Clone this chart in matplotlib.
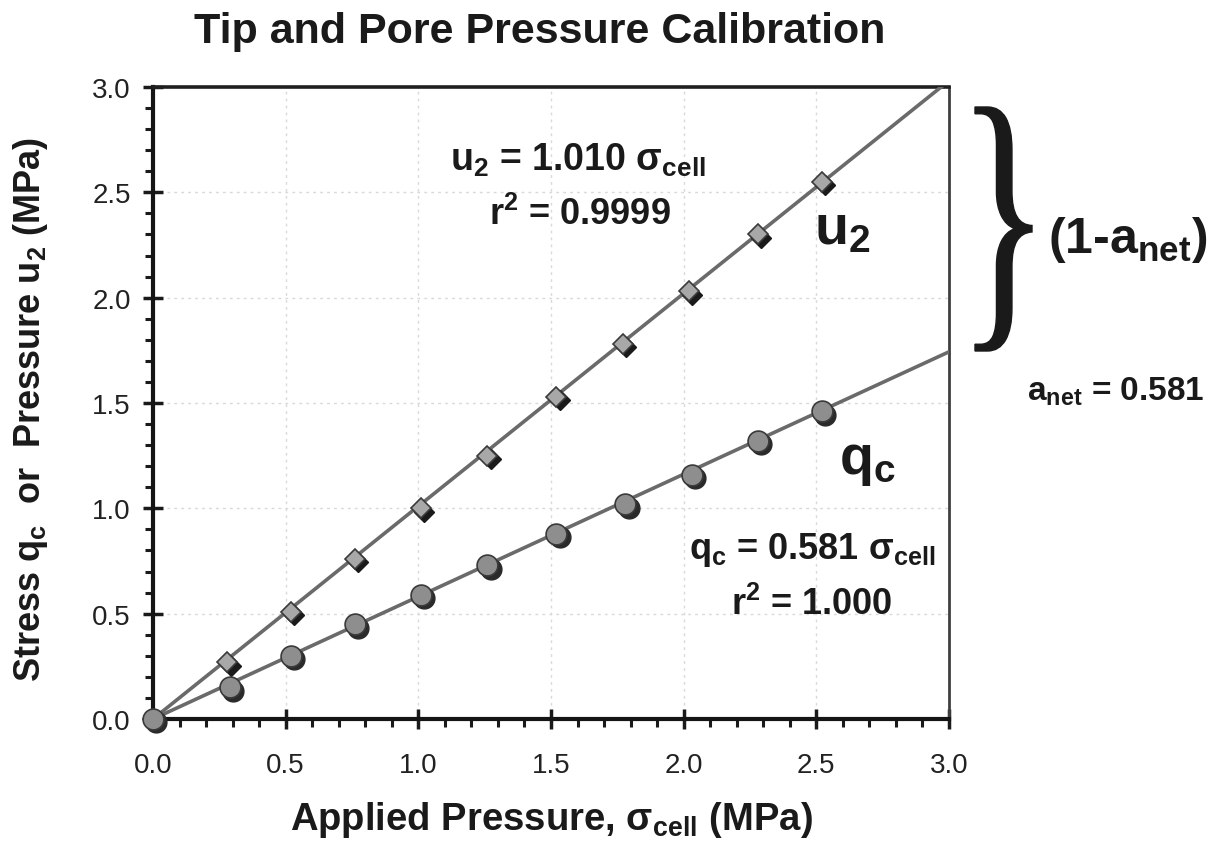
import numpy as np
import matplotlib
matplotlib.use("Agg")
import matplotlib.pyplot as plt
from matplotlib.ticker import MultipleLocator
from matplotlib.transforms import ScaledTranslation, Affine2D
from matplotlib.textpath import TextPath
from matplotlib.font_manager import FontProperties
from matplotlib.patches import PathPatch

plt.rcParams['font.family'] = ['Liberation Sans', 'DejaVu Sans']
plt.rcParams['mathtext.fontset'] = 'custom'
plt.rcParams['mathtext.rm'] = 'Liberation Sans:bold'
plt.rcParams['mathtext.it'] = 'Liberation Sans:bold'
plt.rcParams['mathtext.bf'] = 'Liberation Sans:bold'
plt.rcParams['mathtext.default'] = 'rm'

# Data
sigma_cell = [0.0, 0.28, 0.52, 0.76, 1.01, 1.26, 1.52, 1.77, 2.02, 2.28, 2.52]
u2_values = [0.0, 0.27, 0.51, 0.76, 1.00, 1.25, 1.53, 1.78, 2.03, 2.30, 2.55]
qc_sigma = [0.0, 0.29, 0.52, 0.76, 1.01, 1.26, 1.52, 1.78, 2.03, 2.28, 2.52]
qc_values = [0.0, 0.15, 0.30, 0.45, 0.59, 0.73, 0.88, 1.02, 1.16, 1.32, 1.46]
fit_x = [0.0, 3.0]
u2_slope = 1.010
qc_slope = 0.581
tick_values = [0.0, 0.5, 1.0, 1.5, 2.0, 2.5, 3.0]

W, H = 1214, 853
fig = plt.figure(figsize=(W/100, H/100), dpi=100)
ax = fig.add_axes([153/W, 1-720/H, (949-153)/W, (720-88)/H])

ax.set_xlim(0, 3.0)
ax.set_ylim(0, 3.0)

line_col = '#6a6a6a'
fx = np.array(fit_x)
ax.plot(fx, u2_slope*fx, color=line_col, lw=2.6, zorder=3)
ax.plot(fx, qc_slope*fx, color=line_col, lw=2.6, zorder=3)

shadow = ax.transData + ScaledTranslation(2.5/72, -2.5/72, fig.dpi_scale_trans)
ax.plot(sigma_cell, u2_values, 'D', ms=10, color='#1a1a1a', mec='#1a1a1a',
        transform=shadow, zorder=4, clip_on=False)
ax.plot(qc_sigma, qc_values, 'o', ms=15, color='#2a2a2a', mec='#2a2a2a',
        transform=shadow, zorder=4, clip_on=False)
ax.plot(sigma_cell, u2_values, 'D', ms=10, color='#a8a8a8', mec='#3a3a3a', mew=1.2,
        zorder=5, clip_on=False)
ax.plot(qc_sigma, qc_values, 'o', ms=15, color='#8e8e8e', mec='#3a3a3a', mew=1.2,
        zorder=5, clip_on=False)

ax.xaxis.set_minor_locator(MultipleLocator(0.1))
ax.yaxis.set_minor_locator(MultipleLocator(0.1))
ax.set_xticks(tick_values)
ax.set_yticks(tick_values)
ax.set_xticklabels([f"{v:.1f}" for v in tick_values])
ax.set_yticklabels([f"{v:.1f}" for v in tick_values])
ax.tick_params(which='major', direction='inout', length=14, width=2.5,
               labelsize=20, colors='#1a1a1a', labelcolor='#222222')
ax.tick_params(axis='x', which='major', pad=17)
ax.tick_params(axis='y', which='major', pad=9)
ax.tick_params(which='minor', direction='out', length=6, width=2.2, colors='#1a1a1a')
ax.tick_params(top=False, right=False, which='both')

for s in ['left', 'bottom']:
    ax.spines[s].set_linewidth(3.0)
    ax.spines[s].set_color('#151515')
ax.spines['top'].set_linewidth(2.6)
ax.spines['top'].set_color('#202020')
ax.spines['right'].set_linewidth(2.0)
ax.spines['right'].set_color('#404040')

ax.grid(True, which='major', color='#d9d9d9', linestyle=(0, (2, 3)), lw=1.0, zorder=0)

fig.text(540/W, 1-32/H, 'Tip and Pore Pressure Calibration', ha='center', va='center',
         fontsize=31, fontweight='bold', color='#1a1a1a')

ax.set_xlabel(r'Applied Pressure, $\mathregular{\sigma_{cell}}$ (MPa)', fontsize=27.5,
              fontweight='bold', color='#1a1a1a')
ax.xaxis.set_label_coords(0.5, -(820-720)/632)
ax.xaxis.label.set_va('center')
ax.set_ylabel(r'Stress q$_\mathregular{c}$  or  Pressure u$_\mathregular{2}$ (MPa)', fontsize=26,
              fontweight='bold', color='#1a1a1a')
ax.yaxis.set_label_coords(-(153-31)/796, (720-410)/632)
ax.yaxis.label.set_va('center')

tkw = dict(fontweight='bold', color='#1a1a1a', ha='center', va='center')
fig.text(578/W, 1-160/H, r'u$_2$ = 1.010 σ$_\mathregular{cell}$', fontsize=27, **tkw)
fig.text(580/W, 1-215/H, r'r$^2$ = 0.9999', fontsize=26, **tkw)
fig.text(842/W, 1-230/H, r'u$_2$', fontsize=40, **tkw)
fig.text(867/W, 1-462/H, r'q$_\mathregular{c}$', fontsize=40, **tkw)
fig.text(812/W, 1-550/H, r'q$_\mathregular{c}$ = 0.581 σ$_\mathregular{cell}$', fontsize=26, **tkw)
fig.text(812/W, 1-605/H, r'r$^2$ = 1.000', fontsize=26, **tkw)

# curly brace, fitted into its box
tp = TextPath((0, 0), '}', size=100, prop=FontProperties(family='Liberation Serif'))
bb = tp.get_extents()
x0, x1 = 975/W, 1032/W
y0, y1 = 1-352/H, 1-108/H
tr = Affine2D().translate(-bb.x0, -bb.y0).scale((x1-x0)/bb.width, (y1-y0)/bb.height).translate(x0, y0)
brace = PathPatch(tr.transform_path(tp), transform=fig.transFigure, facecolor='#1a1a1a',
                  edgecolor='#1a1a1a', lw=1.0)
fig.add_artist(brace)

fig.text(1128/W, 1-240/H, r'(1-a$_\mathregular{net}$)', fontsize=36, **tkw)
fig.text(1116/W, 1-392/H, r'a$_\mathregular{net}$ = 0.581', fontsize=24, **tkw)

fig.savefig('out.png', dpi=100, facecolor='white')
